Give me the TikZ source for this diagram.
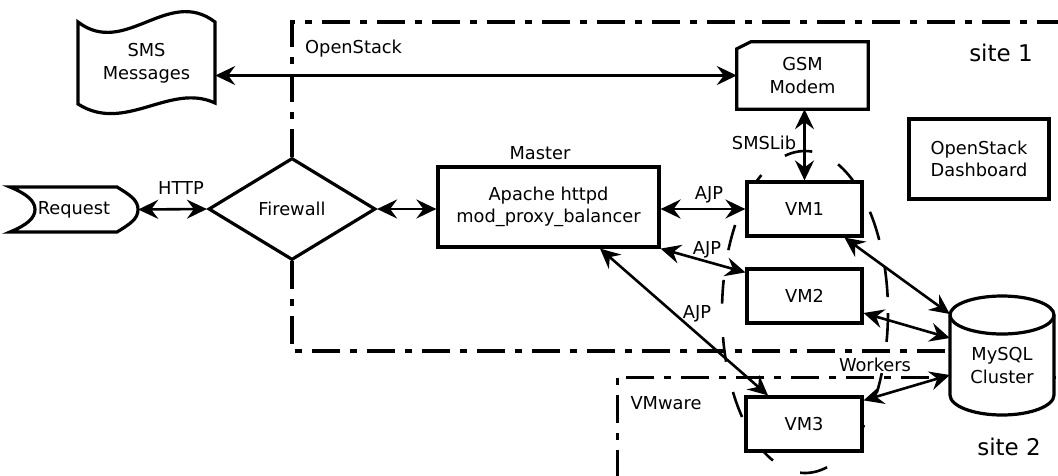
\documentclass[tikz,border=0pt]{standalone}
\usepackage{fontspec}
\setmainfont{DejaVu Sans}
\usetikzlibrary{arrows.meta,shapes.geometric,calc}
\begin{document}
\begin{tikzpicture}[x=1pt,y=-1pt,
  txt/.style={font=\fontsize{17.8}{22.5}\selectfont, inner sep=0pt, align=center},
  bigtxt/.style={font=\fontsize{23}{27}\selectfont, inner sep=0pt},
  box/.style={txt, draw, line width=3.2pt, fill=white},
  ghost/.style={txt, draw=none},
  shapeline/.style={line width=3.2pt},
  conn/.style={line width=2.6pt, {Stealth[length=20pt,width=19pt,inset=7pt]}-{Stealth[length=20pt,width=19pt,inset=7pt]}},
  region/.style={line width=3.4pt, dash pattern=on 28pt off 10pt on 7pt off 10pt},
  workers/.style={line width=2.6pt}]

\useasboundingbox (0,0) rectangle (1058,475);

% site regions
\draw[region] (292,157) -- (292,22) -- (1060,22);
\draw[region] (292,261) -- (292,351) -- (1060,351);
\draw[region, line width=3pt] (617,478) -- (617,377) -- (1060,377);

% workers ellipse (long dashes)
\foreach \a/\b in {256/275, 293.5/307.7, 321.5/333.4, 343.7/354.7, 0.4/10.7, 22.3/30.2,
                   44.6/57, 74.6/93.4, 112.7/127, 139.3/150.2, 162/171, 183/191.5,
                   202.6/212.7, 226.6/238.3}
  \draw[workers] (805,312) ++(\a:83 and 161) arc[start angle=\a, end angle=\b, x radius=83, y radius=161];

% region labels
\node[txt, anchor=west] (oslabel) at (305,49) {OpenStack};
\node[bigtxt] (site1) at (1001,53) {site 1};
\node[bigtxt] (site2) at (1009,447) {site 2};
\node[txt] (vmwlabel) at (666,403) {VMware};

% SMS messages (tape shape)
\draw[shapeline] (78,22) .. controls (125,58) and (168,-14) .. (215,22) -- (215,103)
  .. controls (170,82) and (125,134) .. (78,104) -- cycle;
\node[ghost, minimum width=137pt, minimum height=82pt] (sms) at (146.5,63) {SMS\\Messages};

% GSM modem (card shape)
\node[ghost, minimum width=131pt, minimum height=67pt] (gsm) at (802.5,75.5) {GSM\\Modem};
\draw[shapeline] ([yshift=-7pt]gsm.north west) -- ([xshift=14pt]gsm.north west) -- (gsm.north east)
  -- (gsm.south east) -- (gsm.south west) -- cycle;

% OpenStack dashboard
\node[box, minimum width=140pt, minimum height=80pt] (dash) at (979,159) {OpenStack\\Dashboard};

% Request
\draw[shapeline] (10,187) -- (117,187) .. controls (130,195) and (138,200) .. (138,209.5)
  .. controls (138,219) and (130,224) .. (117,232) -- (10,232)
  .. controls (27,225) and (35,218) .. (35,209.5) .. controls (35,201) and (27,194) .. (10,187) -- cycle;
\node[ghost, minimum width=128pt, minimum height=45pt] (req) at (74,209.5) {Request};

% Firewall
\node[txt, diamond, draw, line width=3.2pt, fill=white, minimum width=167pt, minimum height=102pt] (fw) at (292,209) {Firewall};

% Master
\node[box, minimum width=221pt, minimum height=80pt] (master) at (548.5,207) {Apache httpd\\mod\_proxy\_balancer};
\node[txt] (masterlbl) at (540,153) {Master};

% VMs
\node[box, minimum width=115pt, minimum height=54pt] (vm1) at (804.5,209) {VM1};
\node[box, minimum width=115pt, minimum height=54pt] (vm2) at (804.5,296) {VM2};
\node[box, minimum width=116pt, minimum height=54pt] (vm3) at (804,424) {VM3};

% MySQL cluster
\draw[shapeline, fill=white] (950,315) -- (950,395)
  .. controls (950,406) and (973.3,415) .. (1002,415)
  .. controls (1030.7,415) and (1054,406) .. (1054,395) -- (1054,315)
  .. controls (1054,304.5) and (1030.7,296) .. (1002,296)
  .. controls (973.3,296) and (950,304.5) .. (950,315) -- cycle;
\draw[shapeline] (950,315) .. controls (950,325.5) and (973.3,334) .. (1002,334)
  .. controls (1030.7,334) and (1054,325.5) .. (1054,315);
\node[ghost, minimum width=104pt, minimum height=100pt] (mysql) at (1002,365.5) {MySQL\\Cluster};

% connectors
\draw[conn] (req.east) -- (fw.west);
\draw[conn] (fw.east) -- (fw.east -| master.west);
\draw[conn] (gsm.west -| sms.east) -- (gsm.west);
\draw[conn] (vm1.north |- gsm.south) -- (vm1.north);
\draw[conn] (vm1.west -| master.east) -- (vm1.west);
\draw[conn] (master.south east) -- ([yshift=-5pt]vm2.north west);
\draw[conn] ([xshift=51.5pt]master.south) -- ([xshift=-36pt]vm3.north);
\draw[conn] ([xshift=40pt]vm1.south) -- ([yshift=51.5pt]mysql.west);
\draw[conn] ([yshift=-17pt]vm2.east) -- ([yshift=27.5pt]mysql.west);
\draw[conn] ([yshift=-5pt]vm3.north east) -- ([yshift=-9.5pt]mysql.west);

% connector labels
\node[txt] (lhttp) at (181,188) {HTTP};
\node[txt] (lajp1) at (709,195) {AJP};
\node[txt] (lajp2) at (707,250) {AJP};
\node[txt] (lajp3) at (697,314) {AJP};
\node[txt] (lsms) at (764,143) {SMSLib};
\node[txt] (lwork) at (875,365) {Workers};
\end{tikzpicture}
\end{document}
